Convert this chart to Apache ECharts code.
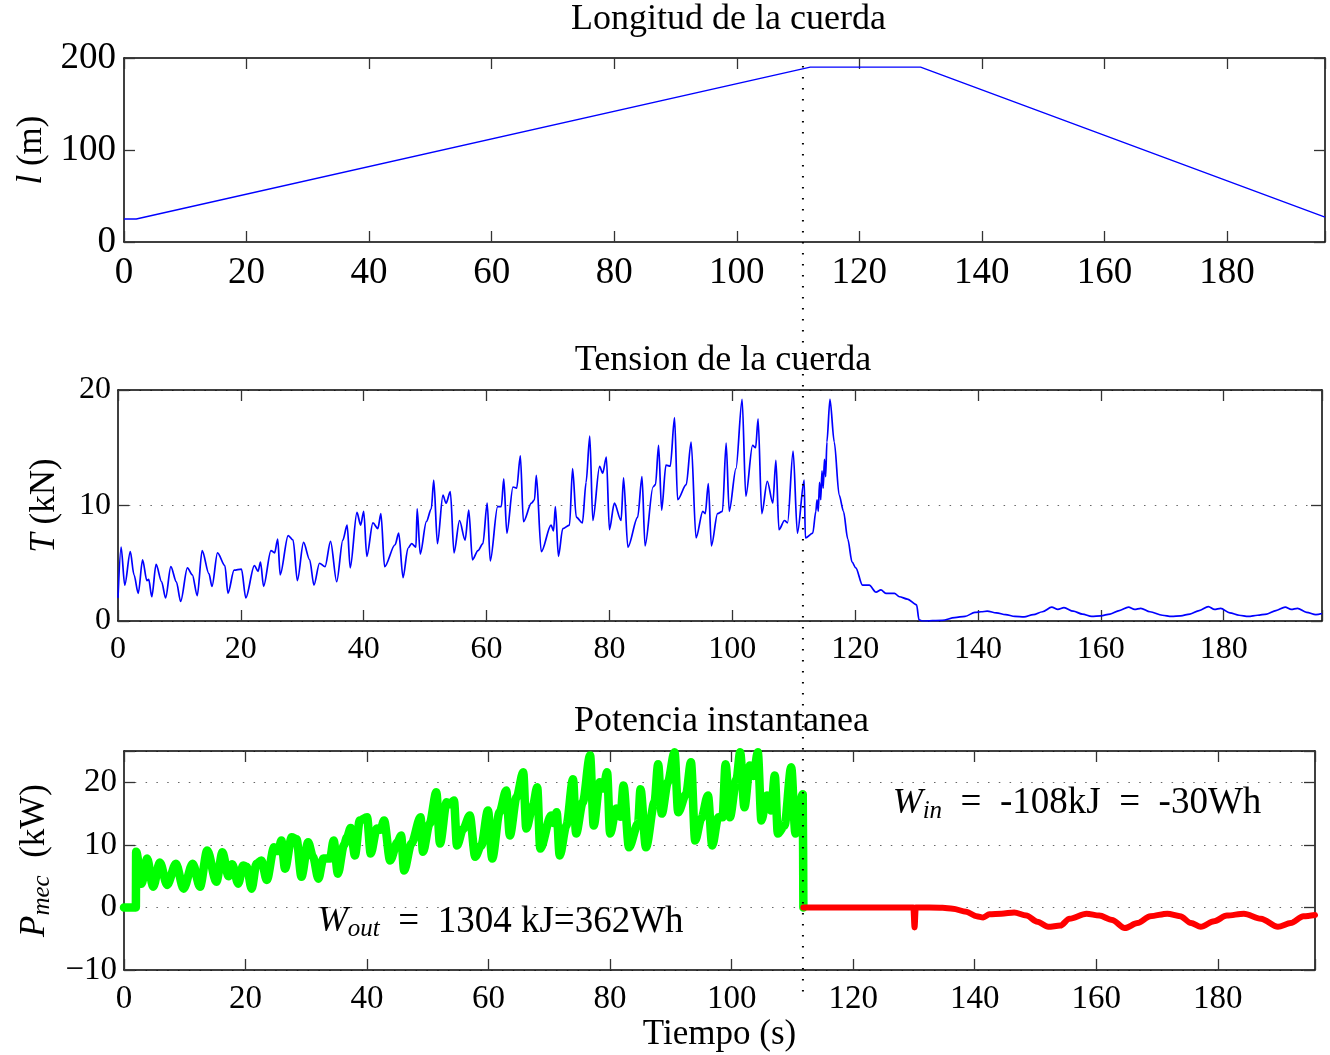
<!DOCTYPE html>
<html><head><meta charset="utf-8">
<script src="https://cdn.jsdelivr.net/npm/echarts@6/dist/echarts.min.js"></script>
<style>html,body{margin:0;padding:0;background:#fff}#c{width:1330px;height:1055px}</style>
</head><body><div id="c"></div>
<script>
// ---------- data ----------
const lengthT = [0, 2, 112, 130, 196];
const lengthV = [25, 25, 190, 190, 27];

const tensionT = [0.0,0.5,1.1,2.0,2.6,3.3,4.0,4.7,5.0,5.5,6.2,7.1,7.75,8.6,9.5,10.2,11.3,12.1,12.9,13.7,14.8,15.3,16.2,17.4,17.9,18.9,20.1,20.8,22.2,22.8,23.2,23.7,24.9,25.5,26.0,26.4,27.7,28.5,29.2,30.2,31.2,31.9,32.8,33.7,34.6,35.6,36.6,37.3,37.8,38.9,39.5,40.0,40.5,41.5,42.3,42.8,43.4,45.1,45.7,46.4,47.2,47.8,48.5,48.7,49.2,50.2,51.0,51.4,52.0,52.9,53.4,54.1,54.7,55.6,56.5,57.1,57.7,58.6,59.4,60.1,60.6,61.8,62.4,62.8,63.3,64.3,64.9,65.5,66.0,67.3,67.8,68.1,68.9,70.5,70.9,71.2,71.7,72.4,73.5,74.0,74.6,75.6,76.2,76.8,77.3,78.4,78.9,79.5,80.0,80.8,81.9,82.3,83.0,84.6,85.3,85.8,87.1,87.5,88.0,88.5,89.2,89.9,90.6,91.1,92.5,93.3,94.1,95.2,95.6,96.1,96.6,97.6,98.4,99.0,99.5,100.6,101.6,102.2,103.3,103.8,104.2,104.8,105.7,106.6,107.1,107.6,108.5,109.0,109.9,110.6,111.7,111.9,113.1,113.6,113.8,114.0,114.2,114.4,114.6,114.8,115.0,115.2,115.4,115.9,116.6,117.4,118.1,118.8,119.5,120.1,121.2,122.3,123.4,124.2,125.0,126.4,127.2,128.5,130.0,130.4,131.0,134.2,136.2,137.9,139.5,140.5,141.5,143.0,144.5,146.0,147.5,149.0,150.5,152.0,153.0,154.0,155.5,157.0,158.5,160.0,161.5,163.0,164.5,165.5,166.5,168.0,170.0,171.5,173.0,174.5,176.0,177.5,178.5,179.5,181.0,182.5,184.0,185.5,187.0,188.5,190.0,191.0,192.0,193.5,195.0,196.0];
const tensionV = [2.0,6.4,3.1,6.0,4.0,2.4,5.3,3.5,3.6,2.1,4.9,3.4,2.0,4.7,3.4,1.7,4.6,4.0,2.2,6.1,4.1,3.0,5.9,4.8,2.4,4.4,4.5,2.0,4.8,4.3,5.1,3.0,6.1,5.9,7.1,4.0,7.4,7.0,3.5,6.8,5.3,3.1,5.0,4.7,6.9,3.4,7.0,8.3,4.6,9.4,8.3,9.5,5.6,8.5,8.0,9.3,4.7,6.6,7.6,3.75,6.3,6.7,6.4,9.7,5.8,8.6,9.7,12.2,6.7,10.9,10.2,11.2,5.9,8.7,7.0,9.6,5.3,6.1,6.7,10.2,5.2,9.9,9.9,12.3,7.6,11.6,11.5,14.3,8.6,10.2,10.5,12.6,6.0,8.3,7.8,9.9,5.6,8.0,8.3,13.2,9.0,8.5,12.0,16.0,8.7,13.4,12.8,14.2,7.9,10.2,8.7,12.4,6.4,9.0,12.5,6.5,11.6,11.8,15.2,9.6,13.5,13.4,17.6,10.5,11.8,15.5,7.2,9.5,9.3,11.9,6.5,9.3,9.5,15.4,9.5,13.2,19.2,10.8,15.2,15.0,17.5,9.3,12.1,10.2,13.9,7.9,8.7,8.5,14.7,7.6,12.2,7.2,7.6,9.5,10.5,9.5,12.0,10.5,13.0,11.5,14.0,12.5,15.5,19.2,15.5,10.9,9.5,7.1,5.1,4.6,3.1,3.1,2.5,2.7,2.4,2.4,2.1,1.9,1.4,0.1,0.0,0.05,0.3,0.4,0.75,0.8,0.85,0.7,0.55,0.4,0.35,0.55,0.8,1.2,1.0,1.15,0.85,0.6,0.4,0.45,0.6,0.9,1.2,1.0,1.1,0.8,0.5,0.4,0.45,0.6,0.9,1.25,1.0,1.1,0.7,0.5,0.4,0.5,0.6,0.9,1.2,1.0,1.1,0.75,0.55,0.65];

const powerOutT = [0,1.95,2.0,2.9,3.8,4.8,5.9,7.1,8.55,9.8,11.3,12.5,13.7,15.2,16.2,17.2,17.8,18.8,19.6,20.2,21.0,21.8,22.6,23.5,24.7,25.4,25.9,26.5,27.6,28.4,29.2,30.3,31.1,32.0,32.8,33.9,34.5,35.2,36.2,36.7,37.3,38.0,38.8,40.0,40.6,41.6,42.2,42.8,43.8,45.0,45.6,46.1,47.3,48.8,49.2,50.3,51.4,52.0,53.1,53.7,54.3,54.8,55.8,56.9,57.8,58.8,59.9,60.6,61.8,62.9,63.5,64.6,65.7,66.2,67.3,68.0,68.5,70.3,70.7,71.2,71.7,72.8,73.9,74.4,75.5,76.7,77.3,78.3,78.9,79.5,80.0,81.0,81.7,82.2,83.1,84.6,85.0,85.9,87.3,87.9,88.5,89.5,90.6,91.2,92.5,93.3,94.0,95.0,96.1,96.8,97.8,98.5,99.0,99.7,100.8,101.4,102.1,103.0,103.6,104.3,104.9,105.8,106.5,107.1,107.6,108.7,109.8,110.5,111.7,111.8];
const powerOutV = [0,0,8.9,3.8,7.8,3.3,7.2,3.6,7.0,3.0,7.0,3.3,9.1,4.1,8.8,5.0,6.9,3.8,6.7,6.5,3.0,7.0,7.5,4.4,9.6,9.0,10.7,6.2,11.2,10.9,4.9,10.4,8.1,4.6,7.8,7.8,10.7,5.4,10.0,11.2,12.7,8.3,13.9,14.4,8.6,12.6,12.4,13.9,7.5,10.4,11.5,5.9,10.2,14.4,8.9,13.4,18.4,10.2,16.8,16.5,17.1,9.9,12.5,14.7,8.1,9.9,15.5,7.8,15.2,18.7,11.5,17.6,21.6,12.6,16.3,19.2,9.4,14.7,13.5,15.2,8.3,13.1,20.5,11.8,16.8,24.3,13.1,20.0,19.0,21.6,11.8,15.8,14.5,19.5,9.6,13.4,18.9,9.6,16.8,22.9,15.0,20.0,24.8,15.2,18.1,23.2,10.7,14.2,17.9,9.9,14.4,14.4,22.9,14.4,20.5,24.8,16.0,22.7,21.0,24.8,13.9,17.9,15.5,21.1,11.8,13.1,22.4,11.8,18.1,0];

const powerInT = [111.8,129.9,130.1,130.3,134.7,136.4,138.6,140.3,141.4,142.4,144.4,146.5,148.5,150.3,152.1,154.1,155.6,158.4,160.5,162.6,164.7,166.8,168.9,171.7,173.8,175.6,177.2,179.4,181.5,184.3,187.1,189.9,192.0,194.1,196.0];
const powerInV = [0,0,-3.2,0,-0.05,-0.2,-0.7,-1.4,-1.6,-1.1,-1.0,-0.8,-1.3,-2.3,-3.1,-2.9,-1.8,-1.0,-1.3,-2.0,-3.3,-2.5,-1.4,-1.0,-1.4,-2.5,-3.1,-2.2,-1.3,-1.0,-1.8,-3.1,-2.5,-1.4,-1.2];

const xTickStep = 20;
const lengthTicks = [0, 100, 200];
const tensionTicks = [0, 10, 20];
const powerTicks = [-10, 0, 10, 20];
const markerTime = 111.5;

const titles = ['Longitud de la cuerda', 'Tension de la cuerda', 'Potencia instantanea'];
const xName = 'Tiempo (s)';
const woutText = '  =  1304 kJ=362Wh';
const winText = '  =  -108kJ  =  -30Wh';

// ---------- chart ----------
const FONT = 'Liberation Serif';
const X_MAX = 196;
const pairs = (a, b) => a.map((t, i) => [t, b[i]]);
const minus = v => (v < 0 ? '\u2212' + Math.abs(v) : String(v));

function xAxes(gi, fs, margin, extra) {
  const common = {
    type: 'value', gridIndex: gi, min: 0, max: X_MAX, interval: xTickStep,
    axisLine: {show: true, onZero: false, lineStyle: {color: '#000', width: 1.5}},
    axisTick: {show: true, inside: true, length: 11, lineStyle: {color: '#333', width: 1.3}},
    splitLine: {show: false}
  };
  return [
    Object.assign({}, common, {position: 'bottom',
      axisLabel: {show: true, fontSize: fs, fontFamily: FONT, color: '#000', margin: margin,
        formatter: v => (v % xTickStep === 0 ? String(v) : '')}}, extra || {}),
    Object.assign({}, common, {position: 'top', axisLabel: {show: false}})
  ];
}
function yAxes(gi, ticks, max, fs, margin, grid, nameCfg) {
  const step = ticks[1] - ticks[0];
  const common = {
    type: 'value', gridIndex: gi, min: ticks[0], max: max, interval: step,
    axisLine: {show: true, onZero: false, lineStyle: {color: '#000', width: 1.5}},
    axisTick: {show: true, inside: true, length: 11, lineStyle: {color: '#333', width: 1.3}}
  };
  return [
    Object.assign({}, common, {position: 'left',
      axisLabel: {show: true, fontSize: fs, fontFamily: FONT, color: '#000', margin: margin,
        formatter: v => (ticks.indexOf(v) >= 0 ? minus(v) : '')},
      splitLine: {show: grid, lineStyle: {color: '#666', width: 1.2, type: [1.5, 9.3]}}}, nameCfg),
    Object.assign({}, common, {position: 'right', axisLabel: {show: false}, splitLine: {show: false}})
  ];
}
const nameStyle = (extraRich) => ({
  fontSize: 35, fontFamily: FONT, color: '#000',
  rich: Object.assign({
    i: {fontSize: 35, fontFamily: FONT, fontStyle: 'italic', color: '#000', lineHeight: 40},
    r: {fontSize: 35, fontFamily: FONT, color: '#000', lineHeight: 40}
  }, extraRich || {})
});

const chart = echarts.init(document.getElementById('c'), null, {renderer: 'canvas'});
const option = {
  animation: false,
  backgroundColor: '#fff',
  grid: [
    {left: 124, right: 5, top: 58, height: 184},
    {left: 118, right: 8, top: 390, height: 231},
    {left: 124, right: 15, top: 751, height: 219}
  ],
  xAxis: [].concat(
    xAxes(0, 37, 13),
    xAxes(1, 32, 13),
    xAxes(2, 33, 13, {name: xName, nameLocation: 'middle', nameGap: 46,
      nameTextStyle: {fontSize: 35, fontFamily: FONT, color: '#000'}})
  ),
  yAxis: [].concat(
    yAxes(0, lengthTicks, 200, 37, 8, false, {name: '{i|l}{r| (m)}', nameLocation: 'middle', nameGap: 70, nameRotate: 90, nameTextStyle: nameStyle()}),
    yAxes(1, tensionTicks, 20, 32, 7, true, {name: '{i|T}{r| (kN)}', nameLocation: 'middle', nameGap: 53, nameRotate: 90, nameTextStyle: nameStyle()}),
    yAxes(2, powerTicks, 25, 33, 7, true, {name: '{i|P}{s|mec}{r|  (kW)}', nameLocation: 'middle', nameGap: 64, nameRotate: 90,
      nameTextStyle: nameStyle({s: {fontSize: 25, fontFamily: FONT, fontStyle: 'italic', color: '#000', lineHeight: 26, verticalAlign: 'bottom'}})})
  ),
  series: [
    {type: 'line', xAxisIndex: 0, yAxisIndex: 0, data: pairs(lengthT, lengthV), showSymbol: false, symbol: 'none',
      lineStyle: {color: '#0000ff', width: 1.3}},
    {type: 'line', xAxisIndex: 2, yAxisIndex: 2, data: pairs(tensionT, tensionV), showSymbol: false, symbol: 'none',
      smooth: 0.3, smoothMonotone: 'x', lineStyle: {color: '#0000ff', width: 1.7}},
    {type: 'line', xAxisIndex: 4, yAxisIndex: 4, data: pairs(powerOutT, powerOutV), showSymbol: false, symbol: 'none',
      smooth: 0.3, smoothMonotone: 'x', lineStyle: {color: '#00ff00', width: 8.5, join: 'round', cap: 'round'}},
    {type: 'line', xAxisIndex: 4, yAxisIndex: 4, data: pairs(powerInT, powerInV), showSymbol: false, symbol: 'none',
      smooth: 0.3, smoothMonotone: 'x', lineStyle: {color: '#ff0000', width: 6, join: 'round', cap: 'round'}}
  ]
};
chart.setOption(option);

// overlays positioned through the axes' own scales
const mx = chart.convertToPixel({xAxisIndex: 2}, markerTime);
const pOut = chart.convertToPixel({xAxisIndex: 4, yAxisIndex: 4}, [31.9, -2.3]);
const pIn = chart.convertToPixel({xAxisIndex: 4, yAxisIndex: 4}, [126.5, 16.6]);
const titleCenters = [
  [(chart.convertToPixel({xAxisIndex: 0}, 0) + chart.convertToPixel({xAxisIndex: 0}, X_MAX)) / 2 + 4, 20],
  [(chart.convertToPixel({xAxisIndex: 2}, 0) + chart.convertToPixel({xAxisIndex: 2}, X_MAX)) / 2 + 3, 361],
  [(chart.convertToPixel({xAxisIndex: 4}, 0) + chart.convertToPixel({xAxisIndex: 4}, X_MAX)) / 2 + 2, 722]
];
const richAnn = {
  w: {fontSize: 36, fontFamily: FONT, fontStyle: 'italic', fill: '#000', lineHeight: 40},
  s: {fontSize: 25, fontFamily: FONT, fontStyle: 'italic', fill: '#000', lineHeight: 26, verticalAlign: 'bottom'},
  n: {fontSize: 37, fontFamily: FONT, fill: '#000', lineHeight: 40}
};
const graphics = titles.map((t, i) => ({
  type: 'text', x: titleCenters[i][0], y: titleCenters[i][1], silent: true,
  style: {text: t, fontSize: 36, fontFamily: FONT, fill: '#000', align: 'center', verticalAlign: 'middle'}
}));
graphics.push({
  type: 'line', silent: true, z: 100,
  shape: {x1: mx, y1: 66, x2: mx, y2: 992},
  style: {stroke: '#000', lineWidth: 2, lineDash: [1.6, 9.4]}
});
graphics.push({
  type: 'text', x: pOut[0], y: pOut[1], silent: true, z: 50,
  style: {text: '{w|W}{s|out}{n|' + woutText + '}', rich: richAnn, align: 'left', verticalAlign: 'middle', fontSize: 36, fontFamily: FONT}
});
graphics.push({
  type: 'text', x: pIn[0], y: pIn[1], silent: true, z: 50,
  style: {text: '{w|W}{s|in}{n|' + winText + '}', rich: richAnn, align: 'left', verticalAlign: 'middle', fontSize: 36, fontFamily: FONT}
});
chart.setOption({graphic: graphics});
</script>
</body></html>
